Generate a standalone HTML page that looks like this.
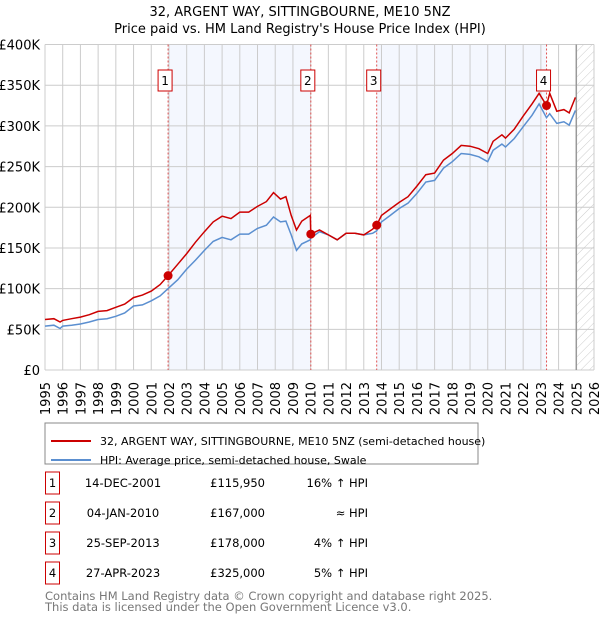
<!DOCTYPE html>
<html><head><meta charset="utf-8"><style>
body{margin:0;background:#fff;font-family:"Liberation Sans","DejaVu Sans",sans-serif;}
svg text{font-family:"DejaVu Sans","Liberation Sans",sans-serif;}
</style></head><body>
<svg id="c" width="600" height="620" xmlns="http://www.w3.org/2000/svg">
<defs><pattern id="hatch" width="6" height="6" patternUnits="userSpaceOnUse" patternTransform="rotate(45)"><line x1="0" y1="0" x2="0" y2="6" stroke="#ccc" stroke-width="1"/></pattern></defs>
<text x="300" y="16" text-anchor="middle" font-size="13">32, ARGENT WAY, SITTINGBOURNE, ME10 5NZ</text>
<text x="300" y="33" text-anchor="middle" font-size="13">Price paid vs. HM Land Registry's House Price Index (HPI)</text>
<g id="plot"></g>
<rect x="45" y="423" width="433" height="41" fill="#fff" stroke="#888"/>
<line x1="51" y1="441" x2="91" y2="441" stroke="#cc0000" stroke-width="2"/>
<text x="100" y="445" font-size="11">32, ARGENT WAY, SITTINGBOURNE, ME10 5NZ (semi-detached house)</text>
<line x1="51" y1="460" x2="91" y2="460" stroke="#5b8fd0" stroke-width="2"/>
<text x="100" y="464" font-size="11">HPI: Average price, semi-detached house, Swale</text>
<g id="table" font-size="11.5"></g>
<text x="45" y="600" font-size="11.5" fill="#777">Contains HM Land Registry data © Crown copyright and database right 2025.</text>
<text x="45" y="611" font-size="11.5" fill="#777">This data is licensed under the Open Government Licence v3.0.</text>
</svg>
<script>
const years=[1995,1995.5,1995.85,1996,1996.5,1997,1997.5,1998,1998.5,1999,1999.5,2000,2000.5,2001,2001.5,2001.95,2002.5,2003,2003.5,2004,2004.5,2005,2005.5,2006,2006.5,2007,2007.5,2007.9,2008.3,2008.6,2008.9,2009.2,2009.5,2009.98,2010.01,2010.5,2011,2011.5,2012,2012.5,2013,2013.5,2013.73,2014,2014.5,2015,2015.5,2016,2016.5,2017,2017.5,2018,2018.5,2019,2019.5,2020,2020.3,2020.8,2021,2021.5,2022,2022.5,2022.9,2023.32,2023.5,2023.9,2024.3,2024.6,2024.95];
const hpi=[54,55,51,54,55,56.5,59,62,63,66,70,78.6,80,85,91,100,111,124,135,147,158,163,160,167,167,174,178,188,182,183,166,147,155,160,162,170,166,160,168,168,166,168,171,182,190,198.5,205,217,231,233,248,256,266,265,262,256,270,277.6,274,284.5,299,313,327,310,315,303,305,301,319];
const price=[62,63,59,61,63,65,68,72,73,77,81,89,92,97,105,115.95,130,143,157,170,182,189,186,194,194,201,207,218,210,213,190,172,183,190,167,172,166,160,168,168,166,173,178,190,198,206,213,226,240,242,258,266,276,275,272,266,281,289,285,296,312,327,340,325,340,318,320,316,335];
const saleYears=[2001.95,2010.01,2013.73,2023.32];
const saleValues=[115.95,167,178,325];
const saleLabels=["1","2","3","4"];
const saleDates=["14-DEC-2001","04-JAN-2010","25-SEP-2013","27-APR-2023"];
const salePrices=["£115,950","£167,000","£178,000","£325,000"];
const saleHpi=["16% ↑ HPI","≈ HPI","4% ↑ HPI","5% ↑ HPI"];
const yTicks=[0,50,100,150,200,250,300,350,400];
const yTickLabels=["£0","£50K","£100K","£150K","£200K","£250K","£300K","£350K","£400K"];
const xTicks=[];for(let y=1995;y<=2026;y++)xTicks.push(y);

const L=45,R=594,T=44.5,B=370,X0=1995,X1=2026;
const sx=y=>L+(y-X0)/(X1-X0)*(R-L);
const sy=v=>B-v/400*(B-T);
const NS="http://www.w3.org/2000/svg";
const g=document.getElementById('plot');
function mk(tag,attrs,parent){const e=document.createElementNS(NS,tag);for(const k in attrs)e.setAttribute(k,attrs[k]);(parent||g).appendChild(e);return e;}
[[0,1],[2,3]].forEach(p=>{const r=mk('rect',{x:sx(saleYears[p[0]]),y:T,width:sx(saleYears[p[1]])-sx(saleYears[p[0]]),height:B-T,fill:'#f4f7fe'});

});
const h=mk('rect',{x:sx(2025),y:T,width:R-sx(2025),height:B-T,fill:'url(#hatch)'});


xTicks.forEach(y=>{const l=mk('line',{x1:sx(y),x2:sx(y),y1:T,y2:B,stroke:'#ccc','stroke-width':1});


const t=mk('text',{x:0,y:0,'font-size':13,'text-anchor':'end',transform:`translate(${sx(y)+5},382) rotate(-90)`});
t.textContent=y;

});
yTicks.forEach((v,i)=>{const l=mk('line',{x1:L,x2:R,y1:sy(v),y2:sy(v),stroke:'#ccc','stroke-width':1});


const t=mk('text',{x:40,y:sy(v)+5,'font-size':13,'text-anchor':'end'});
t.textContent=yTickLabels[i];

});
mk('line',{x1:sx(2025),x2:sx(2025),y1:T,y2:B,stroke:'#999','stroke-width':1.5});
saleYears.forEach((y,i)=>{const l=mk('line',{x1:sx(y),x2:sx(y),y1:T,y2:B,stroke:'#e05050','stroke-width':1,'stroke-dasharray':'2,2'});


const bx=mk('rect',{x:sx(y)-10,y:70,width:14,height:21,fill:'#fff',stroke:'#cc0000'});


const t=mk('text',{x:sx(y)-3,y:85,'font-size':12,'text-anchor':'middle'});t.textContent=saleLabels[i];});
const pth=arr=>arr.map((v,i)=>(i?'L':'M')+sx(years[i]).toFixed(1)+','+sy(v).toFixed(1)).join('');
const hl=mk('path',{d:pth(hpi),fill:'none',stroke:'#5b8fd0','stroke-width':1.5});


const pl=mk('path',{d:pth(price),fill:'none',stroke:'#cc0000','stroke-width':1.5});


saleYears.forEach((y,i)=>{const c=mk('circle',{cx:sx(y),cy:sy(saleValues[i]),r:4.5,fill:'#cc0000'});

});
const tb=document.getElementById('table');
saleLabels.forEach((s,i)=>{const cy=483+i*30;
const b=mk('rect',{x:45.5,y:cy-11,width:14,height:22,fill:'#fff',stroke:'#cc0000'},tb);


const t0=mk('text',{x:52.5,y:cy+4,'text-anchor':'middle'},tb);t0.textContent=s;
const t1=mk('text',{x:123,y:cy+4,'text-anchor':'middle'},tb);t1.textContent=saleDates[i];


const t2=mk('text',{x:265,y:cy+4,'text-anchor':'end'},tb);t2.textContent=salePrices[i];


const t3=mk('text',{x:368,y:cy+4,'text-anchor':'end'},tb);t3.textContent=saleHpi[i];

});
</script>
</body></html>
